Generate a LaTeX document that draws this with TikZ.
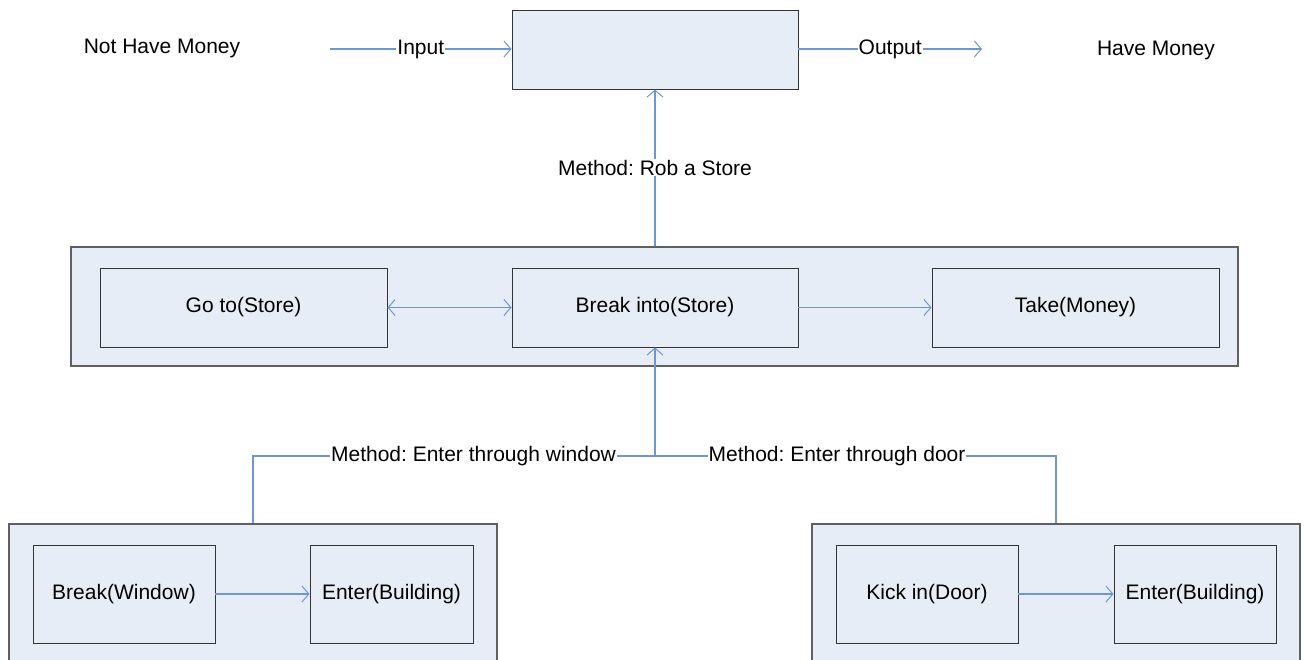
\documentclass[tikz,border=0pt]{standalone}
\usepackage{fontspec}
\setmainfont{Liberation Sans}
\usetikzlibrary{arrows.meta}
\definecolor{boxfill}{RGB}{231,237,247}
\definecolor{linkblue}{RGB}{112,150,208}
\definecolor{frame}{RGB}{96,96,96}
\frenchspacing
\tikzset{
  task/.style={draw=black!80, line width=0.9pt, fill=boxfill, inner sep=0pt,
    font=\fontsize{21}{25}\selectfont},
  group/.style={draw=frame, line width=2pt, fill=boxfill, inner sep=0pt},
  link/.style={draw=linkblue, line width=1.1pt,
    -{Straight Barb[length=7pt,width=16pt,line width=1pt]}},
  biglink/.style={link, {Straight Barb[length=7pt,width=16pt,line width=1pt]}-{Straight Barb[length=7pt,width=16pt,line width=1pt]}},
  plain/.style={draw=linkblue, line width=1.1pt},
  tag/.style={fill=white, inner sep=1pt, font=\fontsize{21}{25}\selectfont},
  free/.style={inner sep=0pt, font=\fontsize{21}{25}\selectfont}
}
\begin{document}
\begin{tikzpicture}[x=1pt,y=-1pt]
\clip (0,0) rectangle (1305,659);
\fill[white] (0,0) rectangle (1305,659);

% top level process
\node[task, minimum width=286pt, minimum height=79pt] (top) at (655,49.5) {};
\node[free] (start) at (162,48) {Not Have Money};
\node[free] (goal) at (1156,50) {Have Money};
\coordinate (inA) at (330,49);
\coordinate (outB) at (982,49);
\draw[link] (inA) -- node[tag] {Input} (top.west |- inA);
\draw[link] (top.east |- outB) -- node[tag] {Output} (outB);

% second level: rob a store
\node[group, minimum width=1167pt, minimum height=119pt] (mid) at (654.5,306.5) {};
\node[task, minimum width=287pt, minimum height=79pt] (goto) at (243.5,307.5) {Go to(Store)};
\node[task, minimum width=286pt, minimum height=79pt] (break) at (655,307.5) {Break into(Store)};
\node[task, minimum width=287pt, minimum height=79pt] (take) at (1075.5,307.5) {Take(Money)};
\draw[link] (mid.north -| top.south) -- node[tag] {Method: Rob a Store} (top.south);
\draw[biglink] (goto.east) -- (break.west);
\draw[link] (break.east) -- (take.west);

% third level: two ways to break in
\node[group, minimum width=488pt, minimum height=176pt] (lc) at (253,612) {};
\node[task, minimum width=182pt, minimum height=98pt] (bw) at (124,594) {Break(Window)};
\node[task, minimum width=163pt, minimum height=98pt] (eb1) at (391.5,594) {Enter(Building)};
\draw[link] (bw.east) -- (eb1.west);

\node[group, minimum width=488pt, minimum height=176pt] (rc) at (1056,612) {};
\node[task, minimum width=182pt, minimum height=98pt] (kd) at (927,594) {Kick in(Door)};
\node[task, minimum width=162pt, minimum height=98pt] (eb2) at (1195,594) {Enter(Building)};
\draw[link] (kd.east) -- (eb2.west);

\coordinate (join) at (655,456);
\draw[plain] (lc.north) |- (join);
\draw[plain] (rc.north) |- (join);
\draw[link] (join) -- (break.south);
\node[tag] (lwin) at (473.5,456) {Method: Enter through window};
\node[tag] (ldoor) at (837,456) {Method: Enter through door};
\end{tikzpicture}
\end{document}
